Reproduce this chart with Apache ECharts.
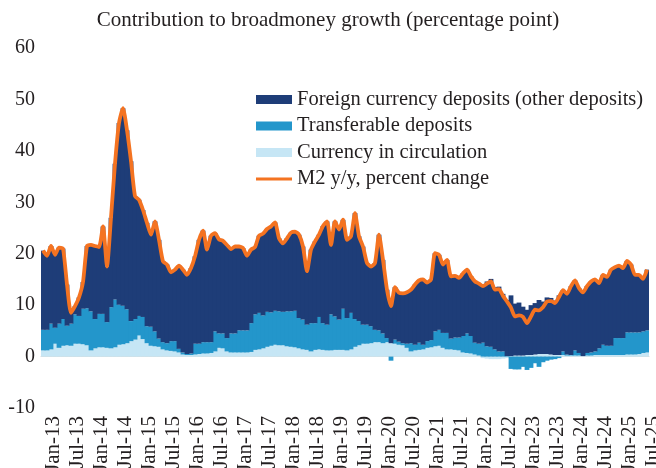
<!DOCTYPE html>
<html>
<head>
<meta charset="utf-8">
<script src="https://cdn.jsdelivr.net/npm/echarts@6/dist/echarts.min.js"></script>
<style>
  html, body { margin: 0; padding: 0; background: #fff; }
  #chart { width: 656px; height: 468px; }
</style>
</head>
<body>
<div id="chart"></div>
<script>
// monthly, Jan-13 .. Aug-25
const monthNames = ['Jan', 'Feb', 'Mar', 'Apr', 'May', 'Jun', 'Jul', 'Aug', 'Sep', 'Oct', 'Nov', 'Dec'];
const years = ['13', '14', '15', '16', '17', '18', '19', '20', '21', '22', '23', '24', '25'];
const nMonths = 152;

const currency = [
  1.2, 1.2, 1.4, 2.5, 1.7, 2.1, 2.2, 2.1, 2.5, 2.5,
  2.4, 2.2, 1.2, 1.6, 1.8, 1.8, 1.7, 1.6, 1.8, 2.3,
  2.4, 2.6, 3.0, 3.3, 4.1, 3.4, 2.6, 2.1, 2.0, 1.9,
  1.4, 1.2, 1.1, 1.0, 0.8, 0.4, 0.3, 0.3, 0.4, 0.5,
  0.6, 0.6, 0.7, 1.0, 1.7, 1.6, 1.0, 0.8, 0.8, 0.8,
  0.8, 0.8, 0.9, 1.3, 1.4, 1.6, 1.9, 2.1, 2.3, 2.2,
  2.2, 2.0, 1.9, 1.8, 1.6, 1.4, 1.3, 1.0, 1.3, 1.4,
  1.3, 1.2, 1.2, 1.3, 1.3, 1.3, 1.2, 1.4, 1.9, 2.2,
  2.5, 2.5, 2.6, 2.8, 2.8, 2.6, 2.8, 2.6, 2.5, 2.3,
  2.2, 1.7, 1.0, 1.2, 1.3, 1.4, 1.7, 1.8, 2.0, 2.1,
  1.7, 1.4, 1.4, 1.3, 1.2, 0.8, 0.7, 0.6, 0.4, 0.2,
  -0.3, -0.4, -0.5, -0.5, -0.5, -0.4, -0.3, 0.1, 0.2, 0.2,
  0.2, 0.3, 0.3, 0.4, 0.5, 0.5, 0.5, 0.4, 0.3, 0.3,
  0.3, 0.2, 0.2, 0.2, 0.2, 0.1, 0.2, 0.2, 0.3, 0.3,
  0.3, 0.3, 0.3, 0.3, 0.3, 0.3, 0.4, 0.4, 0.4, 0.5,
  0.7, 0.8
];

const transferable = [
  4.0, 4.0, 5.0, 3.1, 4.7, 5.2, 3.8, 4.3, 5.7, 5.4,
  6.9, 7.2, 7.6, 5.7, 6.5, 6.5, 5.0, 8.0, 9.3, 7.8,
  7.5, 6.6, 3.9, 4.0, 3.8, 4.3, 3.3, 3.7, 2.9, 1.6,
  1.4, 1.4, 1.9, 2.0, 0.7, 0.4, 0.2, 0.3, 2.1, 2.0,
  2.2, 2.2, 2.1, 3.9, 2.8, 2.9, 2.6, 3.7, 3.7, 4.3,
  4.3, 4.3, 5.6, 6.9, 7.1, 6.4, 6.8, 6.5, 6.6, 6.6,
  6.5, 6.8, 6.9, 7.1, 5.9, 5.8, 4.9, 5.5, 5.2, 6.3,
  5.2, 5.0, 7.0, 6.5, 5.9, 8.0, 6.3, 7.1, 5.4, 4.7,
  3.7, 3.7, 3.3, 2.4, 2.3, 1.9, 0.8, -0.8, 0.8, 0.6,
  0.4, 0.8, 1.6, 1.1, 1.4, 0.9, 1.3, 1.4, 2.9, 3.1,
  2.9, 3.2, 2.1, 2.4, 2.5, 3.2, 3.8, 3.4, 2.3, 2.3,
  2.7, 2.0, 1.9, 1.4, 1.0, 1.0, 0.1, -2.4, -2.5, -2.5,
  -2.0, -2.6, -2.2, -1.3, -2.0, -1.1, -0.8, -0.6, -0.5, -0.3,
  0.7, 0.2, 0.1, 1.0, 0.5, 0.0, 0.5, 0.6, 0.7, 1.3,
  2.0, 1.8, 1.8, 3.3, 3.3, 3.3, 4.3, 4.3, 4.3, 4.2,
  4.2, 4.3
];

const foreign = [
  15.4, 14.4, 15.1, 14.2, 14.8, 13.7, 8.0, 2.1, 1.6, 3.6,
  5.2, 12.1, 12.9, 14.2, 13.0, 17.0, 10.8, 17.4, 26.4, 35.3,
  38.4, 34.8, 31.1, 23.9, 22.6, 20.8, 20.1, 17.9, 21.4, 19.2,
  15.7, 15.3, 13.4, 13.9, 16.2, 16.1, 15.4, 16.6, 17.0, 20.2,
  21.7, 18.0, 20.7, 19.1, 18.3, 18.0, 18.1, 16.4, 16.9, 16.3,
  16.0, 14.5, 14.3, 13.1, 15.0, 15.9, 16.1, 16.7, 17.2, 14.2,
  13.3, 14.2, 15.3, 15.4, 16.2, 14.2, 10.4, 14.3, 15.9, 16.0,
  18.9, 20.1, 13.5, 18.5, 17.5, 17.3, 15.2, 14.9, 20.6, 16.5,
  15.2, 12.0, 11.6, 13.0, 18.6, 14.3, 9.4, 8.0, 10.2, 9.5,
  9.7, 10.0, 10.4, 11.7, 12.1, 12.7, 11.4, 11.8, 15.2, 14.6,
  13.3, 14.2, 12.1, 12.0, 11.6, 12.2, 12.4, 11.6, 11.9, 11.7,
  11.3, 12.6, 13.2, 12.1, 12.6, 11.2, 10.9, 11.8, 10.1, 10.3,
  9.5, 8.8, 9.7, 10.0, 10.5, 10.2, 11.0, 11.0, 10.6, 11.6,
  11.9, 11.8, 13.4, 13.6, 12.6, 12.4, 13.0, 13.8, 14.0, 12.7,
  13.6, 13.4, 14.8, 13.8, 14.1, 13.6, 13.9, 13.2, 11.2, 11.2,
  10.2, 11.8
];

const m2 = [
  20.6, 19.6, 21.5, 19.8, 21.2, 21.0, 14.0, 8.5, 9.8, 11.5,
  14.5, 21.5, 21.7, 21.5, 21.3, 25.3, 17.5, 27.0, 37.5, 45.4,
  48.3, 44.0, 38.0, 31.2, 30.5, 28.5, 26.0, 23.7, 26.3, 22.7,
  18.5, 17.9, 16.4, 16.9, 17.7, 16.9, 15.9, 17.2, 19.5, 22.7,
  24.5, 20.8, 23.5, 24.0, 22.8, 22.5, 21.7, 20.9, 21.4, 21.4,
  21.1, 19.6, 20.8, 21.3, 23.5, 23.9, 24.8, 25.3, 26.1, 23.0,
  22.0, 23.0, 24.1, 24.3, 23.7, 21.4, 16.6, 20.8, 22.4, 23.7,
  25.4, 26.3, 21.7, 26.3, 24.7, 26.6, 22.7, 23.4, 27.9, 23.4,
  21.4, 18.2, 17.5, 18.2, 23.7, 18.8, 13.0, 9.8, 13.5, 12.4,
  12.3, 12.5, 13.0, 14.0, 14.8, 15.0, 14.4, 15.0, 20.1, 19.8,
  17.9, 18.8, 15.6, 15.7, 15.3, 16.2, 16.9, 15.6, 14.6, 14.2,
  13.7, 14.2, 14.6, 13.0, 13.1, 11.8, 10.7, 9.5, 7.8, 8.0,
  7.7, 6.5, 7.8, 9.1, 9.0, 9.6, 10.7, 10.8, 10.4, 11.6,
  12.9, 12.2, 13.7, 14.8, 13.3, 12.5, 13.7, 14.6, 15.0, 14.3,
  15.9, 15.5, 16.9, 17.4, 17.7, 17.2, 18.6, 17.9, 15.9, 15.9,
  15.1, 16.9
];

const categories = [];
years.forEach(function (y) {
  monthNames.forEach(function (m) {
    if (categories.length < nMonths) categories.push(m + '-' + y);
  });
});

const serif = 'Liberation Serif';
const textColor = '#231f20';

const chart = echarts.init(document.getElementById('chart'));
chart.setOption({
  animation: false,
  title: {
    text: 'Contribution to broadmoney growth (percentage point)',
    left: 'center',
    top: 5,
    textStyle: { fontFamily: serif, fontSize: 21, fontWeight: 'normal', color: textColor }
  },
  legend: {
    orient: 'vertical',
    left: 251,
    top: 84,
    itemWidth: 36,
    itemHeight: 9,
    itemGap: 5.5,
    textStyle: { fontFamily: serif, fontSize: 20.5, color: textColor, padding: [0, 0, 0, 0] },
    data: [
      { name: 'Foreign currency deposits (other deposits)', icon: 'rect' },
      { name: 'Transferable deposits', icon: 'rect' },
      { name: 'Currency in circulation', icon: 'rect' },
      { name: 'M2 y/y, percent change', icon: 'path://M0,0H36V3H0Z' }
    ]
  },
  grid: { left: 41, right: 7, top: 48, bottom: 60, containLabel: false, outerBoundsMode: 'none' },
  xAxis: [
    {
      type: 'category',
      data: categories,
      boundaryGap: true,
      axisLine: { onZero: true, lineStyle: { color: '#d9d9d9', width: 1 } },
      axisTick: { interval: 5, length: 5, lineStyle: { color: '#bfbfbf' } },
      axisLabel: { show: false }
    },
    {
      type: 'category',
      data: categories,
      position: 'bottom',
      boundaryGap: true,
      axisLine: { show: false, onZero: false },
      axisTick: { show: false },
      axisLabel: {
        interval: 5,
        rotate: 90,
        margin: 8,
        verticalAlign: 'top',
        fontFamily: serif,
        fontSize: 21,
        color: textColor
      }
    }
  ],
  yAxis: {
    type: 'value',
    min: -10,
    max: 60,
    interval: 10,
    splitLine: { show: false },
    axisLine: { show: false },
    axisTick: { show: false },
    axisLabel: { fontFamily: serif, fontSize: 20, color: textColor, margin: 6 }
  },
  series: [
    {
      name: 'Currency in circulation',
      type: 'bar',
      stack: 'm2',
      barWidth: 4.8,
      itemStyle: { color: '#c6e6f5' },
      data: currency
    },
    {
      name: 'Transferable deposits',
      type: 'bar',
      stack: 'm2',
      barWidth: 4.8,
      itemStyle: { color: '#2396cb' },
      data: transferable
    },
    {
      name: 'Foreign currency deposits (other deposits)',
      type: 'bar',
      stack: 'm2',
      barWidth: 4.8,
      itemStyle: { color: '#1e3d78' },
      data: foreign
    },
    {
      name: 'M2 y/y, percent change',
      type: 'line',
      symbol: 'none',
      smooth: 0.2,
      lineStyle: { color: '#f47321', width: 3.8 },
      itemStyle: { color: '#f47321' },
      data: m2
    }
  ]
});
</script>
</body>
</html>
